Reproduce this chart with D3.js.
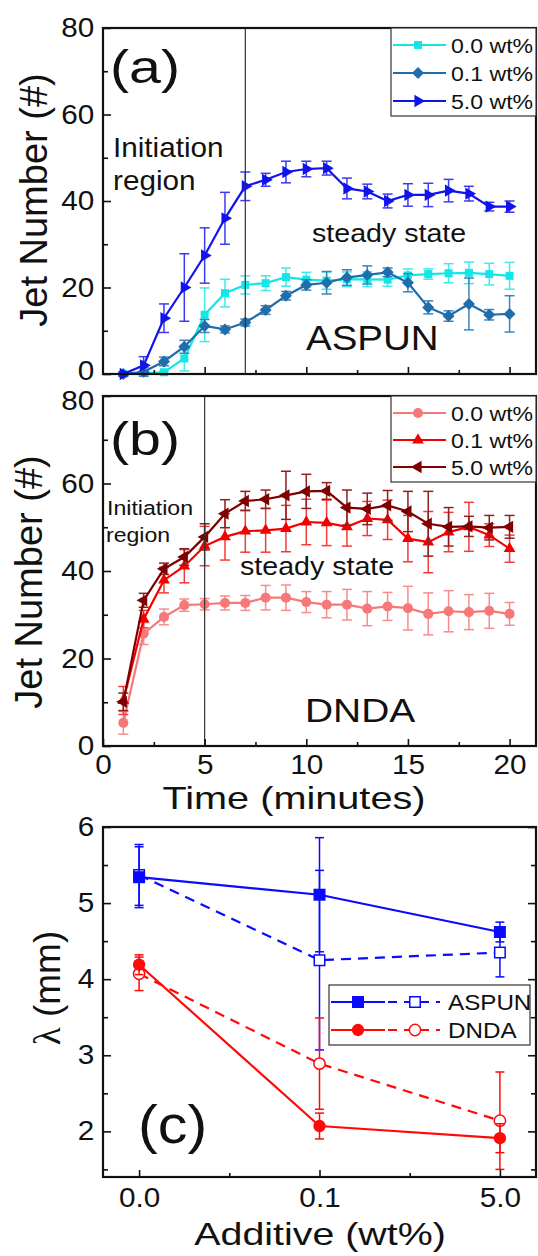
<!DOCTYPE html>
<html>
<head>
<meta charset="utf-8">
<script src="https://cdn.jsdelivr.net/npm/d3@7"></script>
<style>
  body { margin: 0; background: #fff; }
  svg { display: block; }
  text { font-family: Arial, "Liberation Sans", sans-serif; fill: #111; }
</style>
</head>
<body>
<div id="chart"></div>
<script>
// ---- data ----
const minutes = [1, 2, 3, 4, 5, 6, 7, 8, 9, 10, 11, 12, 13, 14, 15, 16, 17, 18, 19, 20];

// (a) ASPUN
const aspun00 = [0, 0.2, 0.4, 3.6, 13.7, 18.7, 20.6, 21.0, 22.4, 21.8, 21.6, 21.9, 21.9, 21.8, 22.8, 23.1, 23.3, 23.4, 23.1, 22.7];
const aspun00Err = [0.3, 0.3, 0.3, 2.9, 6.2, 3.2, 2.1, 1.7, 2.1, 1.7, 2.0, 1.7, 1.7, 1.5, 1.5, 1.2, 2.2, 2.5, 2.5, 3.1];
const aspun01 = [0, 0.5, 2.9, 6.3, 11.1, 10.3, 11.9, 14.8, 18.1, 20.6, 21.1, 22.3, 22.9, 23.5, 21.1, 15.4, 13.4, 16.2, 13.7, 13.9];
const aspun01Err = [0.4, 1.0, 1.0, 1.5, 1.5, 0.8, 0.8, 1.0, 1.0, 1.2, 2.6, 1.8, 2.1, 1.0, 2.1, 1.5, 1.2, 6.0, 1.2, 4.2];
const aspun50 = [0, 2.0, 12.9, 20.0, 27.4, 36.0, 43.4, 44.9, 46.7, 47.4, 47.6, 42.9, 42.2, 40.0, 41.4, 41.4, 42.4, 41.7, 38.7, 38.7];
const aspun50Err = [0.5, 2.0, 3.3, 7.8, 6.4, 6.0, 3.3, 1.5, 2.5, 1.8, 1.6, 2.4, 1.7, 1.6, 2.6, 2.7, 2.6, 1.7, 1.0, 1.3];

// (b) DNDA
const dnda00 = [5.3, 25.7, 29.5, 32.2, 32.4, 32.7, 32.7, 33.9, 33.9, 32.9, 32.3, 32.3, 31.4, 31.9, 31.5, 30.2, 30.8, 30.6, 30.9, 30.2];
const dnda00Err = [2.6, 2.5, 1.8, 1.4, 1.3, 1.6, 1.7, 2.8, 2.9, 2.4, 3.0, 3.5, 3.9, 3.2, 5.0, 4.8, 4.7, 4.0, 4.0, 2.6];
const dnda01 = [10.4, 29.0, 37.9, 41.1, 45.7, 47.8, 49.1, 49.3, 49.7, 51.2, 51.0, 50.1, 52.0, 51.7, 47.4, 46.6, 48.9, 50.1, 48.2, 45.1];
const dnda01Err = [3.2, 2.0, 2.9, 3.8, 4.5, 5.3, 4.8, 5.0, 5.3, 5.2, 5.2, 4.4, 3.9, 4.5, 5.3, 7.0, 4.5, 5.6, 2.6, 3.1];
const dnda50 = [10.1, 33.3, 40.5, 43.2, 47.8, 53.1, 56.0, 56.4, 57.3, 58.2, 58.3, 54.5, 54.2, 55.0, 53.6, 50.8, 50.1, 50.2, 49.9, 50.1];
const dnda50Err = [2.0, 1.6, 1.3, 1.9, 3.0, 3.2, 2.2, 2.1, 5.5, 3.9, 1.9, 4.0, 3.6, 3.4, 4.6, 7.4, 4.4, 2.3, 2.8, 2.6];

// (c) wavelength vs additive
const additiveLabels = ["0.0", "0.1", "5.0"];
const additiveIdx = [0, 1, 2];
const aspunSolid = [5.34, 5.11, 4.62];
const aspunSolidErr = [0.40, 0.75, 0.13];
const aspunOpen = [5.37, 4.25, 4.35];
const aspunOpenErr = [0.40, 1.18, 0.32];
const dndaSolid = [4.19, 2.07, 1.91];
const dndaSolidErr = [0.13, 0.17, 0.19];
const dndaOpen = [4.07, 2.89, 2.14];
const dndaOpenErr = [0.22, 0.60, 0.64];

const jetTicks = [0, 20, 40, 60, 80];
const jetMinor = [10, 30, 50, 70];
const timeTicks = [0, 5, 10, 15, 20];
const timeMinor = [2.5, 7.5, 12.5, 17.5];
const lambdaTicks = [2, 3, 4, 5, 6];
const lambdaMinor = [1.5, 2.5, 3.5, 4.5, 5.5];

// ---- setup ----
const W = 538, H = 1256;
const SX = 1.1; // horizontal text stretch of the original figure

const svg = d3.select("#chart").append("svg").attr("width", W).attr("height", H);

const xTime = d3.scaleLinear().domain([0, 21.3]).range([103, 536]);
const yA = d3.scaleLinear().domain([0, 80]).range([374, 28]);
const yB = d3.scaleLinear().domain([0, 80]).range([746, 396]);
const xC = d3.scaleLinear().domain([-0.2, 2.2]).range([103, 536]);
const yC = d3.scaleLinear().domain([1.4, 6]).range([1177, 827]);

function label(g, x, y, str, size, anchor = "start", sx = SX) {
  return g.append("text")
    .attr("transform", `translate(${x},${y}) scale(${sx},1)`)
    .attr("font-size", size)
    .attr("text-anchor", anchor)
    .text(str);
}

function frame(x, y) {
  const [x0, x1] = x.range();
  const [y1, y0] = y.range();
  svg.append("rect")
    .attr("x", x0).attr("y", y0)
    .attr("width", x1 - x0).attr("height", y1 - y0)
    .attr("fill", "none").attr("stroke", "#111").attr("stroke-width", 2.2);
}

function styleAxis(g, fontSize) {
  g.select(".domain").remove();
  g.selectAll(".tick line").attr("stroke", "#111").attr("stroke-width", 1.6);
  g.selectAll(".tick text").attr("font-size", fontSize).attr("fill", "#111")
    .attr("font-family", "Arial, 'Liberation Sans', sans-serif");
}

function axes(x, y, opt) {
  const [x0, x1] = x.range();
  const yBottom = y.range()[0];
  const gx = svg.append("g").attr("transform", `translate(0,${yBottom})`)
    .call(d3.axisBottom(x).tickValues(opt.xTicks).tickSize(-7).tickPadding(opt.xPad || 11)
      .tickFormat(opt.xFormat || (() => "")));
  styleAxis(gx, 27);
  gx.selectAll(".tick text").attr("transform", `scale(${SX},1)`);
  const gxm = svg.append("g").attr("transform", `translate(0,${yBottom})`)
    .call(d3.axisBottom(x).tickValues(opt.xMinor).tickSize(-4).tickFormat(""));
  styleAxis(gxm, 0);

  const gy = svg.append("g").attr("transform", `translate(${x0},0)`)
    .call(d3.axisLeft(y).tickValues(opt.yTicks).tickSize(-8).tickPadding(9).tickFormat(d3.format("d")));
  styleAxis(gy, 27);
  gy.selectAll(".tick text").attr("transform", `scale(${SX},1)`).attr("dx", 1)
    .attr("y", d => (opt.labelShift && opt.labelShift[d]) || 0);
  const gym = svg.append("g").attr("transform", `translate(${x0},0)`)
    .call(d3.axisLeft(y).tickValues(opt.yMinor).tickSize(-5).tickFormat(""));
  styleAxis(gym, 0);

  if (opt.mirror) {
    const gr = svg.append("g").attr("transform", `translate(${x1},0)`)
      .call(d3.axisRight(y).tickValues(opt.yTicks).tickSize(-8).tickFormat(""));
    styleAxis(gr, 0);
    const grm = svg.append("g").attr("transform", `translate(${x1},0)`)
      .call(d3.axisRight(y).tickValues(opt.yMinor).tickSize(-5).tickFormat(""));
    styleAxis(grm, 0);
  }
}

const SYM = {
  square: { type: d3.symbolSquare, size: 64, rot: 0 },
  diamond: { type: d3.symbolSquare, size: 72, rot: 45 },
  triRight: { type: d3.symbolTriangle, size: 66, rot: 90 },
  triLeft: { type: d3.symbolTriangle, size: 66, rot: -90 },
  triUp: { type: d3.symbolTriangle, size: 60, rot: 0 },
  circle: { type: d3.symbolCircle, size: 80, rot: 0 }
};

function errorBars(g, x, y, xs, vals, errs, color, cap, width) {
  const pts = xs.map((d, i) => ({ x: d, v: vals[i], e: errs[i] }));
  const eg = g.append("g").attr("stroke", color).attr("stroke-width", width);
  eg.selectAll(null).data(pts).join("line")
    .attr("x1", d => x(d.x)).attr("x2", d => x(d.x))
    .attr("y1", d => y(d.v - d.e)).attr("y2", d => y(d.v + d.e));
  [1, -1].forEach(s => {
    eg.selectAll(null).data(pts).join("line")
      .attr("x1", d => x(d.x) - cap / 2).attr("x2", d => x(d.x) + cap / 2)
      .attr("y1", d => y(d.v + s * d.e)).attr("y2", d => y(d.v + s * d.e));
  });
}

function series(x, y, xs, vals, errs, s) {
  const g = svg.append("g");
  errorBars(g, x, y, xs, vals, errs, s.errColor, s.cap || 10, 1.5);
  g.append("path")
    .datum(xs.map((d, i) => [d, vals[i]]))
    .attr("fill", "none").attr("stroke", s.color).attr("stroke-width", 2.2)
    .attr("stroke-dasharray", s.dash || null)
    .attr("d", d3.line().x(d => x(d[0])).y(d => y(d[1])));
  const sym = SYM[s.symbol];
  g.selectAll(null).data(xs.map((d, i) => [d, vals[i]])).join("path")
    .attr("d", d3.symbol(sym.type, s.size || sym.size)())
    .attr("transform", d => `translate(${x(d[0])},${y(d[1])}) rotate(${sym.rot})`)
    .attr("fill", s.open ? "#fff" : s.color)
    .attr("stroke", s.open ? s.color : "none")
    .attr("stroke-width", 1.5);
}

function legendMarker(g, cx, cy, s) {
  const sym = SYM[s.symbol];
  g.append("path")
    .attr("d", d3.symbol(sym.type, s.size || sym.size)())
    .attr("transform", `translate(${cx},${cy}) rotate(${sym.rot})`)
    .attr("fill", s.open ? "#fff" : s.color)
    .attr("stroke", s.open ? s.color : "none")
    .attr("stroke-width", 1.5);
}

function timeLegend(top, rows, items) {
  const g = svg.append("g");
  g.append("rect").attr("x", 391).attr("y", top).attr("width", 145).attr("height", rows[2] - top + 15)
    .attr("fill", "#fff").attr("stroke", "#333").attr("stroke-width", 1.2);
  items.forEach((s, i) => {
    g.append("line").attr("x1", 393).attr("x2", 446).attr("y1", rows[i]).attr("y2", rows[i])
      .attr("stroke", s.color).attr("stroke-width", 2.2);
    legendMarker(g, 418, rows[i], s);
    label(g, 451, rows[i] + 7.5, s.name, 21);
  });
}

// ---- panel (a) ----
const aStyles = [
  { name: "0.0 wt%", color: "#12e6e6", errColor: "#3eeaea", symbol: "square" },
  { name: "0.1 wt%", color: "#1f6dab", errColor: "#3b84c0", symbol: "diamond" },
  { name: "5.0 wt%", color: "#1212ee", errColor: "#3b3bf2", symbol: "triRight" }
];
series(xTime, yA, minutes, aspun00, aspun00Err, aStyles[0]);
series(xTime, yA, minutes, aspun01, aspun01Err, aStyles[1]);
series(xTime, yA, minutes, aspun50, aspun50Err, aStyles[2]);

svg.append("line").attr("x1", xTime(7)).attr("x2", xTime(7)).attr("y1", yA(80)).attr("y2", yA(0))
  .attr("stroke", "#333").attr("stroke-width", 1.2);

axes(xTime, yA, { xTicks: [5, 10, 15, 20], xMinor: timeMinor, yTicks: jetTicks, yMinor: jetMinor, labelShift: { 0: -3 } });
frame(xTime, yA);
timeLegend(28, [45, 73, 101], aStyles);

label(svg, 110, 83, "(a)", 47, "start", 1.22);
label(svg, 113, 157, "Initiation", 27);
label(svg, 113, 190, "region", 27);
label(svg, 312, 242, "steady state", 26);
label(svg, 306, 350, "ASPUN", 35);

// ---- panel (b) ----
const bStyles = [
  { name: "0.0 wt%", color: "#f77878", errColor: "#f78c8c", symbol: "circle" },
  { name: "0.1 wt%", color: "#f40000", errColor: "#f53a3a", symbol: "triUp" },
  { name: "5.0 wt%", color: "#7e0000", errColor: "#8e2020", symbol: "triLeft" }
];
series(xTime, yB, minutes, dnda00, dnda00Err, bStyles[0]);
series(xTime, yB, minutes, dnda01, dnda01Err, bStyles[1]);
series(xTime, yB, minutes, dnda50, dnda50Err, bStyles[2]);

svg.append("line").attr("x1", xTime(5)).attr("x2", xTime(5)).attr("y1", yB(80)).attr("y2", yB(0))
  .attr("stroke", "#333").attr("stroke-width", 1.2);

axes(xTime, yB, { xTicks: timeTicks, xMinor: timeMinor, xFormat: d3.format("d"), xPad: 9, yTicks: jetTicks, yMinor: jetMinor, labelShift: { 80: 5 } });
frame(xTime, yB);
timeLegend(396, [413, 440, 467], bStyles);

label(svg, 110, 455, "(b)", 47, "start", 1.22);
label(svg, 107, 515, "Initiation", 21);
label(svg, 106, 542, "region", 21);
label(svg, 240, 575, "steady state", 26);
label(svg, 305, 722, "DNDA", 33, "start", 1.18);

// ---- panel (c) ----
const cStyles = {
  aspunSolid: { color: "#0a0aff", errColor: "#0a0aff", symbol: "square", size: 144, cap: 9 },
  aspunOpen: { color: "#0a0aff", errColor: "#0a0aff", symbol: "square", size: 110, open: true, dash: "10,7", cap: 9 },
  dndaSolid: { color: "#ff0a0a", errColor: "#ff0a0a", symbol: "circle", size: 120, cap: 9 },
  dndaOpen: { color: "#ff0a0a", errColor: "#ff0a0a", symbol: "circle", size: 100, open: true, dash: "10,7", cap: 9 }
};
series(xC, yC, additiveIdx, aspunOpen, aspunOpenErr, cStyles.aspunOpen);
series(xC, yC, additiveIdx, aspunSolid, aspunSolidErr, cStyles.aspunSolid);
series(xC, yC, additiveIdx, dndaOpen, dndaOpenErr, cStyles.dndaOpen);
series(xC, yC, additiveIdx, dndaSolid, dndaSolidErr, cStyles.dndaSolid);

axes(xC, yC, {
  xTicks: additiveIdx, xMinor: [0.5, 1.5], xFormat: i => additiveLabels[i],
  yTicks: lambdaTicks, yMinor: lambdaMinor, mirror: true
});
frame(xC, yC);

// legend (c)
const lg = svg.append("g");
lg.append("rect").attr("x", 329).attr("y", 985).attr("width", 201).attr("height", 60)
  .attr("fill", "#fff").attr("stroke", "#333").attr("stroke-width", 1.2);
[["ASPUN", cStyles.aspunSolid, cStyles.aspunOpen, 1002], ["DNDA", cStyles.dndaSolid, cStyles.dndaOpen, 1030]]
  .forEach(([name, solid, open, yy]) => {
    lg.append("line").attr("x1", 331).attr("x2", 385).attr("y1", yy).attr("y2", yy)
      .attr("stroke", solid.color).attr("stroke-width", 2.2);
    lg.append("line").attr("x1", 388).attr("x2", 440).attr("y1", yy).attr("y2", yy)
      .attr("stroke", open.color).attr("stroke-width", 2.2).attr("stroke-dasharray", "9,7");
    legendMarker(lg, 358, yy, solid);
    legendMarker(lg, 415, yy, open);
    label(lg, 448, yy + 8, name, 22);
  });

label(svg, 138, 1143, "(c)", 54);

// ---- axis titles ----
function yTitle(x, y, size) {
  return svg.append("text")
    .attr("transform", `translate(${x},${y}) rotate(-90)`)
    .attr("font-size", size).attr("text-anchor", "middle");
}
yTitle(47, 200, 38).text("Jet Number (#)");
yTitle(42, 582, 38).text("Jet Number (#)");
const lt = yTitle(60, 988, 37);
lt.append("tspan").attr("font-family", "'Liberation Serif', 'DejaVu Serif', serif").text("λ");
lt.append("tspan").text(" (mm)");

label(svg, 294, 809, "Time (minutes)", 32, "middle", 1.24);
label(svg, 320, 1245, "Additive (wt%)", 32, "middle", 1.23);
</script>
</body>
</html>
